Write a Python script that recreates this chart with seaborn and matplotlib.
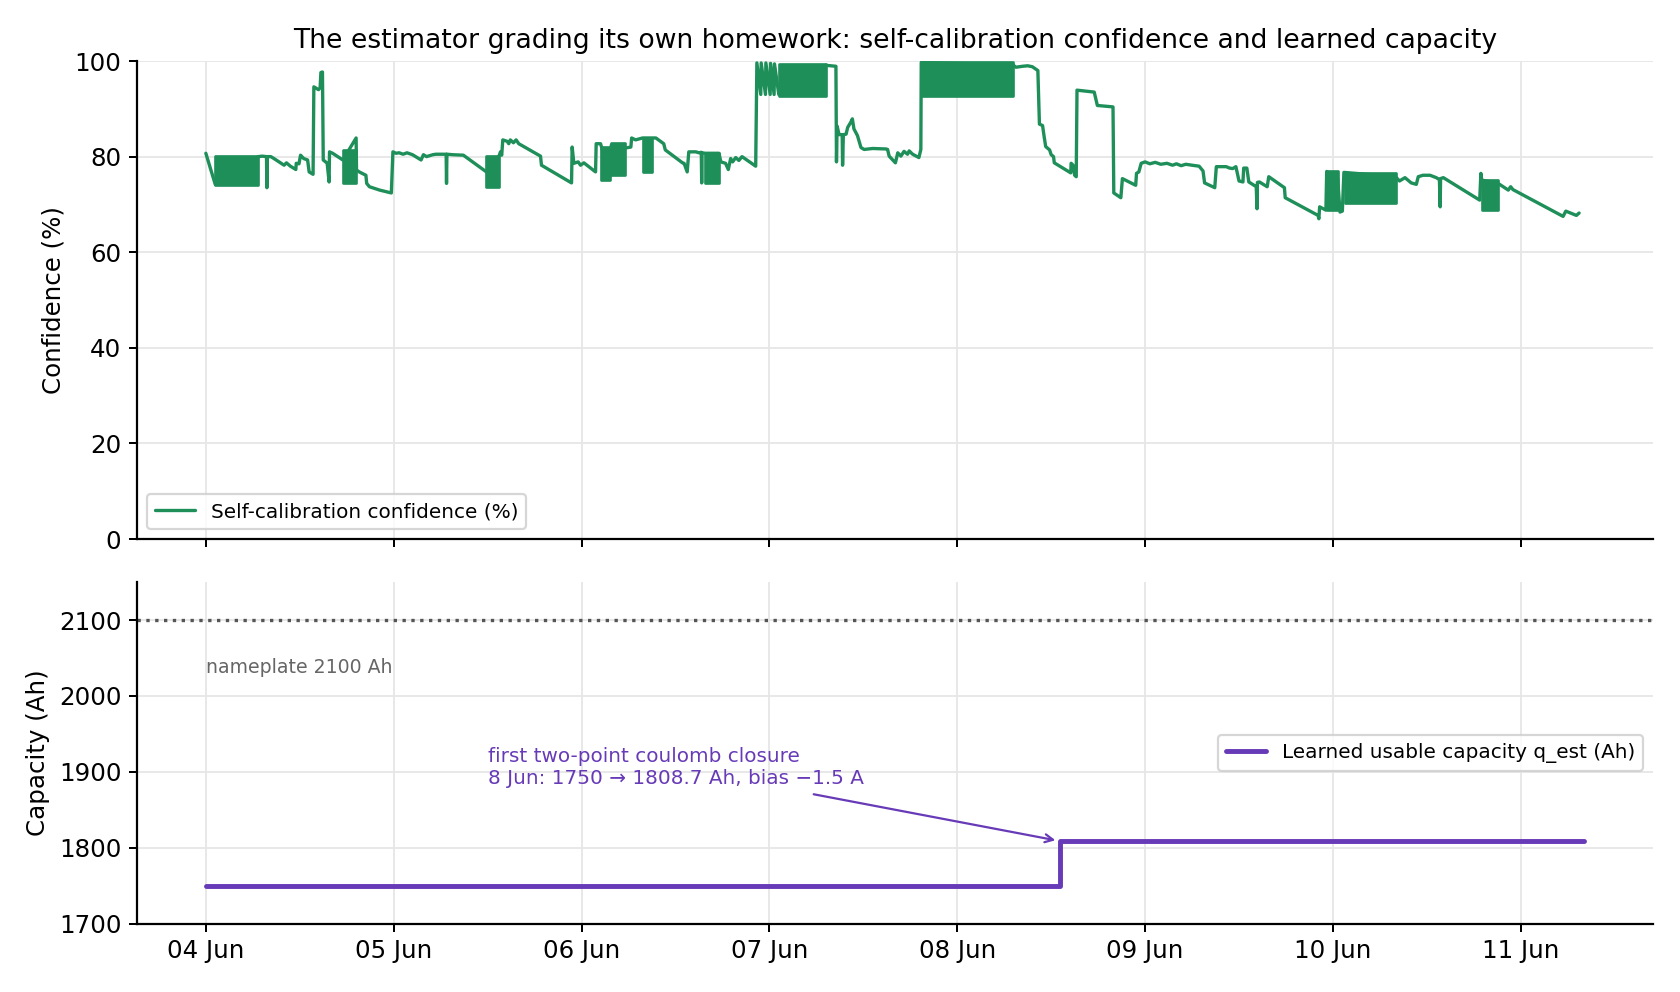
import matplotlib
matplotlib.use("Agg")
import matplotlib.pyplot as plt
import matplotlib.dates as mdates
import seaborn as sns
import pandas as pd

START = pd.Timestamp("2025-06-04")
GREEN = "#1f8f5a"
PURPLE = "#673ab7"

# Self-calibration confidence (%), hours after 04 Jun 00:00
conf_hours = [
    0.0, 1.2, 6.7, 7.2, 7.75, 7.8, 7.85, 8.3, 8.7, 10.0, 10.3, 10.8, 11.5, 11.55, 11.9,
    12.1, 12.5, 13.0, 13.2, 13.7, 13.8, 14.4, 14.6, 14.7, 14.9, 14.95, 15.0, 15.3, 15.5,
    15.75, 15.8, 16.2, 17.5, 19.2, 19.25, 19.6, 20.45, 20.55, 20.9, 22.2, 23.7, 23.9,
    24.3, 24.7, 25.2, 25.7, 26.4, 27.5, 27.8, 28.2, 29.0, 29.4, 30.7, 30.75, 30.8, 31.5,
    32.9, 35.85, 37.5, 37.64, 37.8, 37.94, 38.5, 38.7, 38.9, 39.3, 39.64, 39.98, 42.76,
    42.88, 46.72, 46.8, 47.02, 47.57, 47.87, 48.3, 49.79, 49.87, 50.43, 51.6, 51.8, 53.6,
    54.3, 54.4, 54.9, 55.8, 57.0, 57.5, 58.5, 58.7, 60.9, 61.1, 61.5, 61.7, 62.6, 63.0,
    63.3, 63.35, 63.4, 63.8, 65.56, 65.8, 66.4, 66.75, 67.05, 67.3, 67.7, 68.1, 68.5,
    70.25, 70.4, 70.9, 70.95, 71.5, 71.55, 72.1, 72.15, 72.6, 72.65, 73.2,
    79.2, 80.5, 80.57, 80.65, 80.9, 81.3, 81.35, 81.45, 81.8, 82.0, 82.4, 82.6, 82.8,
    83.25, 83.7, 84.1, 85.2, 86.9, 87.1, 87.3, 87.7, 88.1, 88.4, 88.8, 89.2, 89.65,
    89.86, 90.3, 91.1, 91.35, 91.4,
    103.1, 103.5, 104.35, 105.0, 105.6, 106.3, 106.5, 106.9, 107.1, 107.3, 107.8, 108.0,
    108.3, 108.4, 110.5, 110.55, 110.8, 111.0, 111.2, 111.3, 113.5, 113.9, 115.9, 116.0,
    116.9, 117.1, 118.8, 118.9, 119.2, 119.5, 120.0, 120.6, 121.3, 122.0, 122.8, 123.5,
    124.0, 124.6, 125.2, 126.0, 126.9, 127.4, 127.6, 128.9, 129.1, 130.35, 130.8, 131.2,
    131.6, 132.0, 132.5, 132.6, 133.0, 133.25, 134.2, 134.3, 134.35, 134.6, 135.6, 135.8,
    137.8, 137.9, 142.1, 142.2, 142.3, 143.1, 143.2, 144.6, 144.9, 145.2, 145.4,
    152.0, 152.5, 153.2, 154.0, 154.65, 154.9, 155.5, 156.4, 157.2, 157.6, 157.7, 157.75,
    158.1, 162.75, 162.9, 163.0, 165.1, 166.4, 166.7, 167.0, 173.4, 173.75, 175.1, 175.45,
]
conf_values = [
    80.7, 74.2, 80.0, 80.1, 80.0, 73.5, 80.0, 80.0, 79.6, 78.2, 78.7, 78.0, 77.3, 78.6, 78.5,
    80.3, 79.6, 79.3, 76.8, 76.3, 94.6, 94.0, 94.4, 97.6, 97.7, 88.4, 79.3, 78.9, 78.6,
    74.7, 81.0, 80.7, 79.3, 83.9, 77.2, 76.8, 76.1, 74.4, 73.7, 73.0, 72.4, 81.0,
    80.7, 80.8, 80.5, 80.8, 80.4, 79.3, 80.4, 80.0, 80.4, 80.5, 80.5, 74.4, 80.5, 80.4,
    80.3, 76.8, 80.3, 81.0, 80.3, 83.5, 83.2, 82.7, 83.5, 82.9, 83.5, 82.7, 80.1,
    78.2, 74.5, 82.0, 78.6, 78.9, 78.2, 78.7, 76.8, 82.7, 82.7, 76.0, 82.4, 81.8,
    82.0, 83.9, 83.5, 83.9, 83.9, 83.9, 82.7, 81.4, 78.7, 78.6, 76.8, 81.0, 81.0, 80.8,
    80.9, 74.5, 80.8, 80.7, 80.7, 78.9, 78.6, 77.3, 79.6, 78.9, 79.8, 79.2, 80.0,
    78.0, 99.6, 93.0, 99.6, 93.0, 99.6, 93.0, 99.5, 93.0, 99.4, 93.0,
    99.1, 98.9, 78.9, 86.4, 84.6, 84.6, 78.2, 84.6, 84.7, 86.1, 87.2, 87.9, 85.8,
    84.4, 81.9, 81.5, 81.7, 81.6, 81.5, 80.1, 79.4, 78.7, 80.8, 80.1, 81.1, 80.5,
    81.2, 80.5, 79.8, 81.5, 99.7,
    99.2, 98.7, 98.9, 99.0, 98.8, 98.0, 86.8, 86.5, 84.2, 82.1, 81.4, 80.4,
    80.0, 78.7, 76.6, 78.6, 78.2, 76.1, 75.8, 93.9, 93.5, 90.7, 90.4, 72.4,
    71.4, 75.4, 74.0, 76.5, 76.8, 78.6, 78.9, 78.5, 78.8, 78.4, 78.6, 78.2,
    78.5, 78.1, 78.4, 78.2, 78.0, 77.0, 74.5, 73.5, 77.9, 77.9, 77.6, 77.5,
    77.9, 74.9, 74.7, 77.6, 77.6, 74.7, 73.7, 69.1, 74.6, 74.7, 73.7, 75.8,
    73.5, 71.4, 67.7, 67.0, 69.5, 68.8, 76.9, 75.5, 68.4, 68.6, 76.7,
    75.8, 74.9, 75.6, 74.5, 74.2, 75.8, 76.1, 76.1, 75.6, 75.2, 69.5, 75.4,
    75.6, 70.9, 76.5, 75.1, 74.4, 73.0, 73.7, 73.1, 67.5, 68.6, 67.7, 68.2,
]

# stretches where the value flips so fast the line turns into a solid band
band_start = [1.2, 17.5, 35.85, 50.43, 51.8, 55.8, 63.8, 73.2, 91.4, 143.2, 145.5, 163.0]
band_end = [6.7, 19.2, 37.5, 51.6, 53.6, 57.0, 65.56, 79.2, 103.1, 144.6, 152.0, 165.1]
band_low = [74.0, 74.5, 73.7, 75.1, 76.1, 76.8, 74.5, 92.6, 92.6, 68.8, 70.2, 68.8]
band_high = [80.1, 81.4, 80.1, 82.1, 82.8, 83.9, 80.8, 99.3, 99.7, 76.9, 76.6, 75.1]

# Learned usable capacity q_est (Ah)
cap_hours = [0.0, 109.1, 176.1]
cap_values = [1750.0, 1808.7, 1808.7]
NAMEPLATE = 2100


def to_time(hours):
    return START + pd.to_timedelta(pd.Series(hours, dtype=float), unit="h")


sns.set_theme(style="ticks")
plt.rcParams["font.family"] = ["DejaVu Sans"]
plt.rcParams.update({
    "text.color": "black",
    "axes.labelcolor": "black",
    "axes.edgecolor": "black",
    "axes.linewidth": 1.0,
    "xtick.color": "black",
    "ytick.color": "black",
    "xtick.major.size": 3.5,
    "ytick.major.size": 3.5,
    "xtick.major.width": 0.9,
    "ytick.major.width": 0.9,
})

fig, (ax1, ax2) = plt.subplots(
    2, 1, figsize=(10.5, 6.2), dpi=160, sharex=True,
    gridspec_kw={"height_ratios": [1.4, 1]},
)
fig.subplots_adjust(left=0.0815, right=0.984, top=0.9385, bottom=0.069, hspace=0.105)

# top panel: confidence
conf_df = pd.DataFrame({"time": to_time(conf_hours), "conf": conf_values})
sns.lineplot(data=conf_df, x="time", y="conf", ax=ax1, color=GREEN, lw=1.5,
             sort=False, estimator=None, label="Self-calibration confidence (%)")
for t0, t1, lo, hi in zip(to_time(band_start), to_time(band_end), band_low, band_high):
    ax1.fill_between([t0, t1], lo, hi, color=GREEN, lw=1.2, edgecolor=GREEN)
ax1.set_ylim(0, 100)
ax1.set_ylabel("Confidence (%)", fontsize=11)
ax1.set_xlabel("")
ax1.set_title("The estimator grading its own homework: self-calibration confidence "
              "and learned capacity", fontsize=12)
ax1.legend(loc="lower left", fontsize=9)

# bottom panel: capacity
cap_df = pd.DataFrame({"time": to_time(cap_hours), "cap": cap_values})
sns.lineplot(data=cap_df, x="time", y="cap", ax=ax2, color=PURPLE, lw=2.2,
             drawstyle="steps-post", sort=False, estimator=None,
             label="Learned usable capacity q_est (Ah)")
ax2.axhline(NAMEPLATE, ls=":", color="#555555", lw=1.5)
ax2.text(START, NAMEPLATE - 50, f"nameplate {NAMEPLATE} Ah", color="#666666",
         fontsize=8.5, ha="left", va="top")
ax2.annotate(
    "first two-point coulomb closure\n8 Jun: 1750 \u2192 1808.7 Ah, bias \u22121.5 A",
    xy=(START + pd.Timedelta(hours=cap_hours[1]), cap_values[1]),
    xytext=(START + pd.Timedelta(hours=36), 1878),
    color=PURPLE, fontsize=9, ha="left", va="bottom",
    arrowprops=dict(arrowstyle="->", color=PURPLE, lw=1.0),
)
ax2.set_ylim(1700, 2150)
ax2.set_ylabel("Capacity (Ah)", fontsize=11)
ax2.set_xlabel("")
ax2.legend(loc="center right", fontsize=9)

ax2.xaxis.set_major_locator(mdates.DayLocator())
ax2.xaxis.set_major_formatter(mdates.DateFormatter("%d %b"))

for ax in (ax1, ax2):
    ax.grid(True, color="#e6e6e6", lw=0.8)
    ax.tick_params(labelsize=11)
    sns.despine(ax=ax)

fig.savefig("out.png", dpi=160)
